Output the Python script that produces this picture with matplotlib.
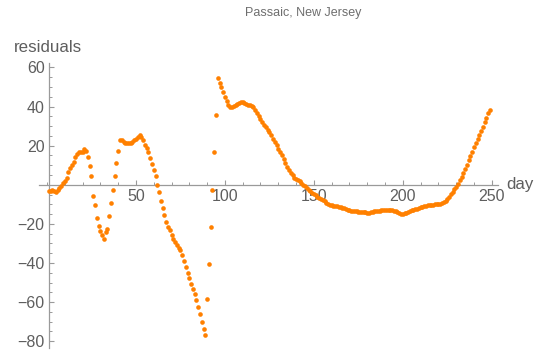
import matplotlib
matplotlib.use("Agg")
import matplotlib.pyplot as plt
import numpy as np
from matplotlib.ticker import MultipleLocator, FixedLocator

# ---- data ----
days = list(range(1, 250))
residuals = [
    # 1-25
    -3.0, -3.1, -2.6, -3.4, -3.9, -2.9, -1.7, -0.5, 0.9, 2.0,
    3.5, 6.3, 8.6, 10.3, 11.9, 14.0, 15.5, 16.6, 16.6, 16.6,
    18.3, 17.1, 14.2, 9.4, 4.3,
    # 26-53
    -5.5, -10.3, -17.0, -21.0, -23.6, -25.6, -27.8, -24.0, -22.7, -15.9,
    -9.4, -2.9, 4.6, 11.1, 17.4, 22.8, 23.0, 22.0, 21.3, 21.6,
    21.2, 21.4, 21.9, 22.7, 23.6, 24.6, 25.4, 24.6,
    # 54-89
    22.7, 20.5, 18.8, 16.8, 13.7, 10.8, 7.7, 4.3, 0.0, -3.9,
    -8.2, -12.1, -15.7, -18.8, -21.7, -23.1, -25.6, -27.9, -29.4, -30.8,
    -32.1, -33.3, -35.9, -38.8, -41.9, -44.9, -47.9, -50.8, -53.5, -56.1,
    -59.0, -62.4, -66.2, -70.1, -73.9, -76.9,
    # 90-96
    -58.6, -40.5, -21.7, -2.6, 16.6, 35.9, 54.7,
    # 97-149
    52.1, 49.9, 47.5, 44.9, 42.7, 40.7, 39.7, 40.0, 40.3, 40.7,
    41.2, 41.7, 42.2, 42.4, 41.7, 41.3, 41.0, 40.7, 40.3, 39.7,
    38.5, 36.8, 35.0, 33.7, 32.1, 30.8, 29.6, 28.2, 26.8, 25.3,
    23.6, 21.9, 20.2, 18.5, 16.8, 15.0, 13.2, 11.1, 9.2, 7.5,
    6.2, 4.9, 3.7, 2.9, 2.2, 1.7, 0.8, 0.0, -0.8, -1.7,
    -2.6, -3.4, -4.3,
    # 150-199
    -4.5, -5.3, -6.0, -6.7, -7.3, -7.9, -8.5, -9.2, -9.8, -10.2,
    -10.5, -10.7, -10.9, -11.1, -11.3, -11.5, -11.8, -12.1, -12.4, -12.7,
    -13.0, -13.2, -13.4, -13.5, -13.6, -13.7, -13.8, -13.9, -14.0, -14.1,
    -14.2, -14.2, -14.0, -13.8, -13.6, -13.5, -13.3, -13.2, -13.1, -13.0,
    -12.9, -12.9, -12.9, -13.0, -13.1, -13.3, -13.6, -14.0, -14.4, -14.7,
    # 200-249
    -14.8, -14.6, -14.2, -13.8, -13.4, -13.1, -12.8, -12.5, -12.2, -11.9,
    -11.6, -11.3, -11.0, -10.7, -10.5, -10.3, -10.2, -10.1, -10.0, -9.9,
    -9.8, -9.6, -9.3, -8.8, -8.1, -7.2, -6.1, -4.9, -3.6, -2.3,
    -0.9, 0.6, 2.2, 4.0, 6.0, 8.1, 10.3, 12.5, 14.7, 17.0,
    19.3, 21.5, 23.6, 25.7, 27.7, 29.7, 32.0, 34.3, 36.5, 38.5,
]
x_ticks = [50, 100, 150, 200, 250]
y_ticks = [-80, -60, -40, -20, 20, 40, 60]
title = "Passaic, New Jersey"
x_label = "day"
y_label = "residuals"

# ---- figure ----
W, H = 546, 356
fig = plt.figure(figsize=(W / 100, H / 100), dpi=100)
plt.rcParams['font.family'] = ['Liberation Sans', 'DejaVu Sans']

left_px, right_px, top_px, bottom_px = 39, 498, 63, 348
ax = fig.add_axes([left_px / W, 1 - bottom_px / H,
                   (right_px - left_px) / W, (bottom_px - top_px) / H])
ax.set_xlim(-4.5, 253.5)
ax.set_ylim(-83.5, 62.3)

ax.scatter(days, residuals, s=11, color='#ff8000', linewidths=0, zorder=3,
           clip_on=False)

axis_col = '#9a9a9a'
text_col = '#5e5e5e'
for s in ['top', 'right']:
    ax.spines[s].set_visible(False)
ax.spines['left'].set_position(('data', 1))
ax.spines['bottom'].set_position(('data', 0))
ax.spines['left'].set_color(axis_col)
ax.spines['bottom'].set_color(axis_col)
ax.spines['left'].set_linewidth(0.9)
ax.spines['bottom'].set_linewidth(0.9)

ax.xaxis.set_major_locator(FixedLocator(x_ticks))
ax.xaxis.set_minor_locator(MultipleLocator(10))
ax.yaxis.set_major_locator(FixedLocator(y_ticks))
ax.yaxis.set_minor_locator(MultipleLocator(5))
ax.tick_params(axis='both', which='major', direction='in', length=3.4,
               width=0.8, color=axis_col, labelcolor=text_col, labelsize=11.5)
ax.tick_params(axis='both', which='minor', direction='in', length=1.9,
               width=0.7, color=axis_col)
ax.tick_params(axis='x', which='major', pad=3)
ax.tick_params(axis='y', which='major', pad=3)

fig.text(48 / W, 1 - 48 / H, y_label, ha='center', va='center',
         color=text_col, fontsize=12.2)
fig.text(506 / W, 1 - 185 / H, x_label, ha='left', va='center',
         color=text_col, fontsize=12.2)
fig.text(303 / W, 1 - 13 / H, title, ha='center', va='center',
         color='#6e6e6e', fontsize=9)

fig.savefig('out.png', dpi=100)
